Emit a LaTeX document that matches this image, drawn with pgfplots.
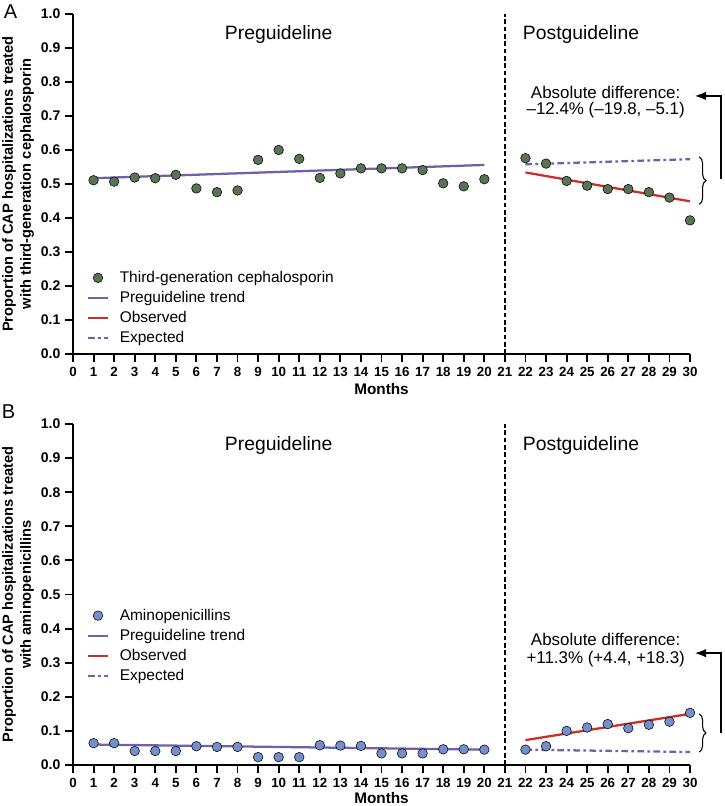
\documentclass[border=0pt]{standalone}
\usepackage{fontspec}
\setmainfont{Liberation Sans}
\usepackage{pgfplots}
\pgfplotsset{compat=1.18}
\usetikzlibrary{arrows.meta,decorations.pathreplacing}

\definecolor{dotgreen}{RGB}{90,115,85}
\definecolor{dotblue}{RGB}{118,142,204}
\definecolor{trendpurple}{RGB}{108,98,168}
\definecolor{obsred}{RGB}{204,45,40}

\pgfplotsset{
  panel/.style={
    scale only axis, width=462.75pt,
    xmin=0, xmax=30, ymin=0, ymax=1,
    axis lines=left, axis line style={line width=1.5pt, -},
    xtick={0,...,30}, ytick={0,0.1,0.2,0.3,0.4,0.5,0.6,0.7,0.8,0.9,1.0},
    tick style={line width=1.4pt, black},
    tick align=outside, major tick length=6pt,
    clip=false,
    /pgf/number format/assume math mode=true,
    yticklabel style={font=\fontsize{10.5}{12}\selectfont\bfseries, /pgf/number format/.cd, fixed, fixed zerofill, precision=1},
    xticklabel style={font=\fontsize{10}{11}\selectfont\bfseries, yshift=-2.5pt, inner sep=1.5pt, /pgf/number format/.cd, fixed, precision=0},
    xlabel={Months},
    ylabel style={font=\fontsize{11}{13.5}\selectfont\bfseries, align=center, at={(axis description cs:-0.089,0.5)}, anchor=center, rotate=0},
    legend cell align=left,
    legend style={draw=none, fill=none, font=\fontsize{11.6}{13.5}\selectfont, anchor=north west, row sep=1.2pt, column sep=6pt, inner sep=0pt},
    legend image code/.code={\draw[mark repeat=2,mark phase=2,#1] plot coordinates {(0pt,0pt) (7.5pt,0pt) (15pt,0pt)};},
  },
  trend/.style={line width=1.7pt, trendpurple},
  obs/.style={line width=1.7pt, obsred},
  expd/.style={line width=1.7pt, trendpurple, dash pattern=on 5pt off 2.5pt on 2pt off 2.5pt},
}

\begin{document}
\begin{tikzpicture}
\useasboundingbox (0,0) rectangle (543pt,604.5pt);

% ---------- Panel A ----------
\begin{axis}[panel, height=255pt, at={(54.75pt,339pt)}, anchor=south west,
  xlabel style={font=\fontsize{11.5}{13}\selectfont\bfseries, inner sep=0.5pt, at={(axis description cs:0.5,-0.104)}, anchor=center},
  ylabel={Proportion of CAP hospitalizations treated\\with third-generation cephalosporin},
  legend style={at={(axis description cs:0.022,0.252)}}]
\addlegendimage{only marks, mark=*, mark size=3.6pt, draw=none, fill=dotgreen}
\addlegendentry{Third-generation cephalosporin}
\addlegendimage{trend}
\addlegendentry{Preguideline trend}
\addlegendimage{obs}
\addlegendentry{Observed}
\addlegendimage{expd}
\addlegendentry{Expected}

\addplot[black, line width=1.1pt, dash pattern=on 3.5pt off 2pt, forget plot] coordinates {(21,0) (21,1.0)};
\addplot[trend, forget plot] coordinates {(1,0.517) (20,0.556)};
\addplot[only marks, mark=*, mark size=3.6pt, draw=none, fill=dotgreen, forget plot] coordinates {
(1,0.511) (2,0.507) (3,0.519) (4,0.517) (5,0.527) (6,0.487) (7,0.476) (8,0.481)
(9,0.571) (10,0.600) (11,0.574) (12,0.518) (13,0.531) (14,0.546) (15,0.546)
(16,0.546) (17,0.541) (18,0.502) (19,0.493) (20,0.514)
(22,0.576) (23,0.560) (24,0.509) (25,0.495) (26,0.485) (27,0.485) (28,0.476)
(29,0.460) (30,0.393)};
\addplot[obs, forget plot] coordinates {(22,0.534) (30,0.449)};
\addplot[expd, forget plot] coordinates {(22,0.558) (30,0.573)};

\node[font=\fontsize{14.5}{16}\selectfont] at (axis cs:10,0.94) {Preguideline};
\node[font=\fontsize{14.5}{16}\selectfont] at (axis cs:24.7,0.94) {Postguideline};
\node[font=\fontsize{12.7}{14}\selectfont] at (axis cs:25.9,0.77) {Absolute difference:};
\node[font=\fontsize{12.7}{14}\selectfont] at (axis cs:25.9,0.716) {–12.4\% (–19.8, –5.1)};
\draw[line width=0.8pt, decorate, decoration={brace, amplitude=5pt}] (axis cs:30.45,0.58) -- (axis cs:30.45,0.44);
\draw[line width=2pt, -{Latex[length=9pt,width=6.5pt]}] (axis cs:31.5,0.515) -- (axis cs:31.5,0.759) -- (axis cs:30.2,0.759);
\end{axis}

% ---------- Panel B ----------
\begin{axis}[panel, height=255.75pt, at={(54.75pt,30.75pt)}, anchor=south west,
  xlabel style={font=\fontsize{11.5}{13}\selectfont\bfseries, inner sep=0.5pt, at={(axis description cs:0.5,-0.096)}, anchor=center},
  ylabel={Proportion of CAP hospitalizations treated\\with aminopenicillins},
  legend style={at={(axis description cs:0.022,0.466)}}]
\addlegendimage{only marks, mark=*, mark size=3.6pt, draw=none, fill=dotblue}
\addlegendentry{Aminopenicillins}
\addlegendimage{trend}
\addlegendentry{Preguideline trend}
\addlegendimage{obs}
\addlegendentry{Observed}
\addlegendimage{expd}
\addlegendentry{Expected}

\addplot[black, line width=1.1pt, dash pattern=on 3.5pt off 2pt, forget plot] coordinates {(21,0) (21,1.0)};
\addplot[trend, forget plot] coordinates {(1,0.060) (20,0.045)};
\addplot[only marks, mark=*, mark size=3.6pt, draw=none, fill=dotblue, forget plot] coordinates {
(1,0.064) (2,0.064) (3,0.041) (4,0.041) (5,0.041) (6,0.055) (7,0.053) (8,0.053)
(9,0.023) (10,0.023) (11,0.023) (12,0.058) (13,0.057) (14,0.056) (15,0.034)
(16,0.034) (17,0.034) (18,0.046) (19,0.046) (20,0.045)
(22,0.045) (23,0.055) (24,0.100) (25,0.110) (26,0.120) (27,0.108) (28,0.118)
(29,0.127) (30,0.153)};
\addplot[obs, forget plot] coordinates {(22,0.073) (30,0.150)};
\addplot[expd, forget plot] coordinates {(22,0.045) (30,0.038)};

\node[font=\fontsize{14.5}{16}\selectfont] at (axis cs:10,0.938) {Preguideline};
\node[font=\fontsize{14.5}{16}\selectfont] at (axis cs:24.7,0.938) {Postguideline};
\node[font=\fontsize{12.7}{14}\selectfont] at (axis cs:25.9,0.367) {Absolute difference:};
\node[font=\fontsize{12.7}{14}\selectfont] at (axis cs:25.9,0.31) {+11.3\% (+4.4, +18.3)};
\draw[line width=0.8pt, decorate, decoration={brace, amplitude=5pt}] (axis cs:30.45,0.15) -- (axis cs:30.45,0.038);
\draw[line width=2pt, -{Latex[length=9pt,width=6.5pt]}] (axis cs:31.5,0.094) -- (axis cs:31.5,0.328) -- (axis cs:30.2,0.328);
\end{axis}

\node[font=\fontsize{15}{17}\selectfont] at (8pt,595.5pt) {A};
\node[font=\fontsize{15}{17}\selectfont] at (6.5pt,296pt) {B};
\end{tikzpicture}
\end{document}
